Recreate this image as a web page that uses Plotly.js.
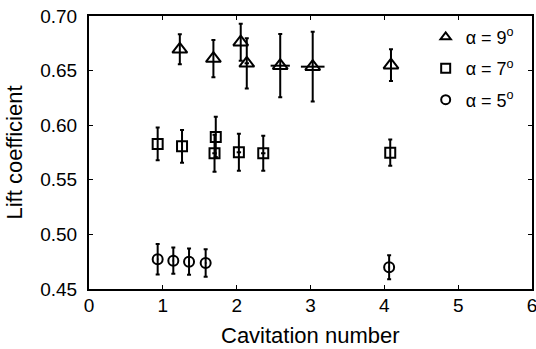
<!DOCTYPE html>
<html><head><meta charset="utf-8">
<script src="https://cdn.plot.ly/plotly-3.0.1.min.js"></script>
<style>body{margin:0;background:#fff}#c{width:536px;height:349px}</style>
</head><body><div id="c"></div>
<script>
// alpha = 9 deg
const x9 = [1.23, 1.685, 2.055, 2.137, 2.59, 3.03, 4.09];
const y9 = [0.6695, 0.661, 0.676, 0.6567, 0.6545, 0.6536, 0.655];
const e9 = [0.0137, 0.017, 0.017, 0.023, 0.029, 0.032, 0.0145];
const ex9 = [0, 0, 0, 0.03, 0.13, 0.16, 0];
// alpha = 7 deg
const x7 = [0.93, 1.26, 1.717, 1.70, 2.03, 2.36, 4.08];
const y7 = [0.5828, 0.5807, 0.5893, 0.5743, 0.5752, 0.5743, 0.5748];
const e7 = [0.015, 0.015, 0.0185, 0.017, 0.017, 0.016, 0.012];
const ex7 = [0, 0, 0, 0.03, 0.03, 0.03, 0];
// alpha = 5 deg
const x5 = [0.93, 1.142, 1.355, 1.58, 4.065];
const y5 = [0.4772, 0.4759, 0.475, 0.4738, 0.4699];
const e5 = [0.014, 0.012, 0.012, 0.0125, 0.011];
const ex5 = [0.01, 0.01, 0.01, 0.01, 0.01];
const names = ['α = 9<sup>o</sup>', 'α = 7<sup>o</sup>', 'α = 5<sup>o</sup>'];
const syms = ['triangle-up-open', 'square-open', 'circle-open'];
const xTitle = 'Cavitation number';
const yTitle = 'Lift coefficient';

function tr(x, y, e, ex, sym, size) {
  return {
    x: x, y: y, type: 'scatter', mode: 'markers', showlegend: false,
    marker: {symbol: sym, size: size, color: '#000', line: {color: '#000', width: 2}},
    error_y: {type: 'data', array: e, visible: true, color: '#000', thickness: 2, width: 2},
    error_x: {type: 'data', array: ex, visible: true, color: '#000', thickness: 2, width: 0}
  };
}
function leg(i) {
  return {x: [null], y: [null], type: 'scatter', mode: 'markers', name: names[i],
    legendgroup: 'g' + i, showlegend: true,
    marker: {symbol: syms[i], size: 9, color: '#000', line: {color: '#000', width: 2}}};
}
const data = [
  tr(x9, y9, e9, ex9, syms[0], 13),
  tr(x7, y7, e7, ex7, syms[1], 10),
  tr(x5, y5, e5, ex5, syms[2], 10),
  leg(0), leg(1), leg(2)
];
const fam = 'Liberation Sans, Arial, sans-serif';
const tickfont = {family: fam, size: 19, color: '#000'};
const titlefont = {family: fam, size: 22, color: '#000'};
const layout = {
  width: 536, height: 349,
  margin: {l: 89, r: 4, t: 16, b: 60},
  paper_bgcolor: '#fff', plot_bgcolor: '#fff',
  font: tickfont,
  showlegend: true,
  legend: {x: 0.76, y: 0.99, xanchor: 'left', yanchor: 'top', bgcolor: 'rgba(0,0,0,0)',
           font: {family: fam, size: 18, color: '#000'}, itemwidth: 30, tracegroupgap: 5,
           traceorder: 'grouped'},
  xaxis: {
    range: [0, 6], dtick: 1, tick0: 0, showgrid: false, zeroline: false,
    showline: true, linecolor: '#000', linewidth: 2, mirror: 'allticks',
    ticks: 'inside', ticklen: 4, tickwidth: 1, tickcolor: '#000',
    tickfont: tickfont, ticklabeloverflow: 'allow', ticklabelstandoff: -2
  },
  yaxis: {
    range: [0.45, 0.70], dtick: 0.05, tick0: 0.45, tickformat: '.2f', showgrid: false, zeroline: false,
    showline: true, linecolor: '#000', linewidth: 2, mirror: 'allticks',
    ticks: 'inside', ticklen: 4, tickwidth: 1, tickcolor: '#000',
    tickfont: tickfont, ticklabelstandoff: 6,
    title: {text: yTitle, font: titlefont, standoff: 12}
  },
  annotations: [{text: xTitle, xref: 'paper', yref: 'paper', x: 0.5, y: -0.17,
                 xanchor: 'center', yanchor: 'middle', showarrow: false, font: titlefont}]
};
Plotly.newPlot('c', data, layout, {staticPlot: true});
</script></body></html>
